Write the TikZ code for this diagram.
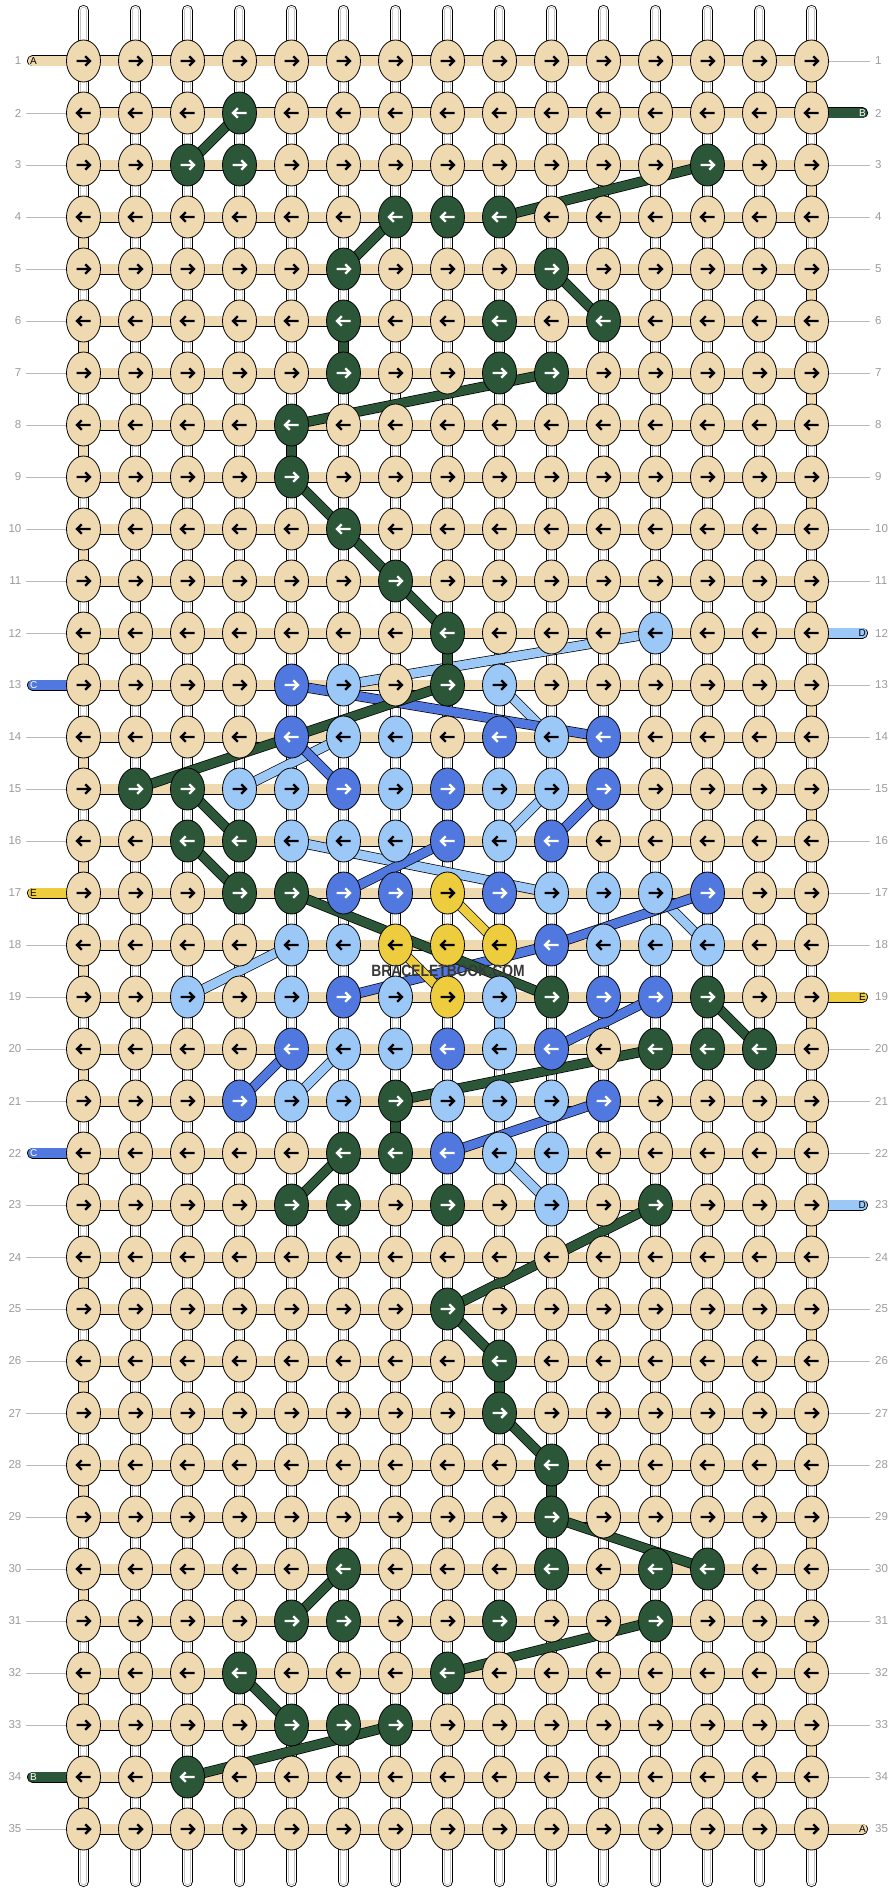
\documentclass[tikz,border=0pt]{standalone}
\usepackage{fontspec}
\setmainfont{Liberation Sans}
\usetikzlibrary{shapes.geometric}

\definecolor{wbeige}{HTML}{EFD9B0}
\definecolor{wgreen}{HTML}{2B5738}
\definecolor{wblue}{HTML}{5078DE}
\definecolor{wlight}{HTML}{9CC8F8}
\definecolor{wyellow}{HTML}{EDCC3D}
\definecolor{numgray}{HTML}{9B9B9B}

\pgfdeclarelayer{strings}
\pgfdeclarelayer{bands}
\pgfsetlayers{strings,bands,main}

% knots that are not beige: row-column
\newcommand\knotcolour[2]{%
  \foreach \rc in {#2}{\expandafter\xdef\csname kc@\rc\endcsname{#1}}}
\knotcolour{wgreen}{2-4,3-3,3-4,3-13,4-7,4-8,4-9,5-6,5-10,6-6,6-9,6-11,7-6,7-9,7-10,
  8-5,9-5,10-6,11-7,12-8,13-8,15-2,15-3,16-3,16-4,17-4,17-5,19-10,19-13,20-12,20-13,20-14,
  21-7,22-6,22-7,23-5,23-6,23-8,23-12,25-8,26-9,27-9,28-10,29-10,30-6,30-10,30-12,30-13,
  31-5,31-6,31-9,31-12,32-4,32-8,33-5,33-6,33-7,34-3}
\knotcolour{wblue}{13-5,14-5,14-9,14-11,15-6,15-8,15-11,16-8,16-10,17-6,17-7,17-9,17-13,
  18-10,19-6,19-11,19-12,20-5,20-8,20-10,21-4,21-11,22-8}
\knotcolour{wlight}{12-12,13-6,13-9,14-6,14-7,14-10,15-4,15-5,15-7,15-9,15-10,16-5,16-6,
  16-7,16-9,17-10,17-11,17-12,18-5,18-6,18-11,18-12,18-13,19-3,19-5,19-7,19-9,20-6,20-7,
  20-9,21-5,21-6,21-8,21-9,21-10,22-9,22-10,23-10}
\knotcolour{wyellow}{17-8,18-7,18-8,18-9,19-8}
\def\tmpg{wgreen}
\def\tmpb{wblue}

\begin{document}
\begin{tikzpicture}[
    x=1pt, y=-1pt,
    knot/.style={
        ellipse,
        draw=black,
        line width=0.8pt,
        minimum width=34pt,
        minimum height=42pt,
        inner sep=0pt
    },
    band/.style={draw=black, line width=0.8pt, double=#1, double distance=9.4pt},
    strand/.style={draw=black, line width=0.7pt, double=#1, double distance=8.8pt},
    vstring/.style={
        draw=black, line width=11pt, line cap=round,
        postaction={draw=white, line width=9.4pt, line cap=round},
        postaction={draw=gray!45, line width=7.4pt, line cap=round},
        postaction={draw=white, line width=5.6pt, line cap=round}
    },
    rowno/.style={text=numgray, font=\fontsize{11.5}{12}\selectfont, inner sep=0pt},
    rowline/.style={draw=gray!55, line width=0.9pt},
    endtag/.style={font=\fontsize{10}{11}\selectfont, inner sep=0pt},
    watermark/.style={text=black!78, font=\bfseries\fontsize{16.3}{18}\selectfont, inner sep=0pt},
    rarrow/.pic={\draw[line width=2.3pt, line join=miter] (-7,0) -- (6,0) (1.8,-4.8) -- (6.6,0) -- (1.8,4.8);}
]
\useasboundingbox (0,0) rectangle (896,1892);

% Knots
\foreach \r in {1,...,35}{
  \foreach \c in {1,...,15}{
    \ifcsname kc@\r-\c\endcsname \edef\kc{\csname kc@\r-\c\endcsname}\else \def\kc{wbeige}\fi
    \def\ac{black}\ifx\kc\tmpg\def\ac{white}\fi\ifx\kc\tmpb\def\ac{white}\fi
    \node[knot, fill=\kc] (k\r-\c) at ({83.5+(\c-1)*52},{61+(\r-1)*52}) {};
    \ifodd\r\relax
      \pic[color=\ac] at (k\r-\c.center) {rarrow};
    \else
      \pic[color=\ac, xscale=-1] at (k\r-\c.center) {rarrow};
    \fi
  }
}

% Vertical strings
\begin{pgfonlayer}{strings}
\fill[white] (0,0) rectangle (896,1892);
\foreach \c in {1,...,15}{
  \coordinate (top\c) at ({83.5+(\c-1)*52},10.5);
  \coordinate (bot\c) at ({83.5+(\c-1)*52},1881.5);
  \draw[vstring] (top\c) -- (bot\c);
}
\end{pgfonlayer}

% Row strings
\begin{pgfonlayer}{bands}
\foreach \r in {1,...,35}{\draw[band=wbeige] (k\r-1.center) -- (k\r-15.center);}
\foreach \r in {1,3,...,33}{
  \pgfmathtruncatemacro\n{\r+1}
  \draw[band=wbeige] (k\r-15.center) -- (k\n-15.center);
}
\foreach \r in {2,4,...,34}{
  \pgfmathtruncatemacro\n{\r+1}
  \draw[band=wbeige] (k\r-1.center) -- (k\n-1.center);
}

% Coloured strands
\foreach \a/\b/\col in {19-9/20-9/wlight,
    12-12/13-6/wlight, 13-9/14-10/wlight, 14-6/15-4/wlight, 15-10/16-9/wlight,
    16-5/17-10/wlight, 17-12/18-13/wlight, 18-5/19-3/wlight, 20-6/21-5/wlight,
    22-9/23-10/wlight,
    13-5/14-11/wblue, 14-5/15-6/wblue, 15-11/16-10/wblue, 16-8/17-6/wblue,
    17-13/18-10/wblue, 19-6/18-10/wblue, 19-12/20-10/wblue, 20-5/21-4/wblue,
    21-11/22-8/wblue,
    17-8/18-9/wyellow, 18-7/19-8/wyellow,
    6-6/7-6/wgreen, 8-5/9-5/wgreen, 12-8/13-8/wgreen, 21-7/22-7/wgreen,
    26-9/27-9/wgreen, 28-10/29-10/wgreen,
    2-4/3-3/wgreen, 4-9/3-13/wgreen, 4-7/5-6/wgreen, 5-10/6-11/wgreen,
    8-5/7-10/wgreen, 9-5/10-6/wgreen, 10-6/11-7/wgreen, 11-7/12-8/wgreen,
    13-8/15-2/wgreen, 15-3/16-4/wgreen, 16-3/17-4/wgreen, 17-5/19-10/wgreen,
    19-13/20-14/wgreen, 20-12/21-7/wgreen, 22-6/23-5/wgreen, 23-12/25-8/wgreen,
    25-8/26-9/wgreen, 27-9/28-10/wgreen, 29-10/30-13/wgreen, 30-6/31-5/wgreen,
    31-12/32-8/wgreen, 32-4/33-5/wgreen, 33-7/34-3/wgreen}{
  \draw[strand=\col] (k\a.center) -- (k\b.center);
}

% Loose ends
\foreach \r/\col in {1/wbeige, 13/wblue, 17/wyellow, 22/wblue, 34/wgreen}{
  \coordinate (la\r) at (32.5,{61+(\r-1)*52});
  \draw[band=\col, line cap=round] (la\r) -- (k\r-1.center);
}
\foreach \r/\col in {2/wgreen, 12/wlight, 19/wyellow, 23/wlight, 35/wbeige}{
  \coordinate (ra\r) at (862.5,{61+(\r-1)*52});
  \draw[band=\col, line cap=round] (k\r-15.center) -- (ra\r);
}
\end{pgfonlayer}

\foreach \r/\tag/\tc in {1/A/black, 13/C/white, 17/E/black, 22/C/white, 34/B/white}{
  \node[endtag, text=\tc, anchor=west, xshift=-2.5pt] (tl\r) at (la\r) {\tag};
}
\foreach \r/\tag/\tc in {2/B/white, 12/D/black, 19/E/black, 23/D/black, 35/A/black}{
  \node[endtag, text=\tc, anchor=east, xshift=3.5pt] (tr\r) at (ra\r) {\tag};
}

% Row numbers
\foreach \r in {1,...,35}{
  \node[rowno, anchor=east] (nl\r) at (21.5,{61+(\r-1)*52}) {\r};
  \node[rowno, anchor=west] (nr\r) at (875,{61+(\r-1)*52}) {\r};
}
\foreach \r in {2,3,4,5,6,7,8,9,10,11,12,14,15,16,18,19,20,21,23,24,25,26,27,28,29,30,31,32,33,35}{
  \draw[rowline, shorten <=4.5pt] (nl\r.east) -- (k\r-1.west);
}
\foreach \r in {1,3,4,5,6,7,8,9,10,11,13,14,15,16,17,18,20,21,22,24,25,26,27,28,29,30,31,32,33,34}{
  \draw[rowline, shorten >=5pt] (k\r-15.east) -- (nr\r.west);
}

% Watermark
\node[watermark] (wm) at (448,971) {\scalebox{0.85}[1]{BRACELETBOOK.COM}};

\end{tikzpicture}
\end{document}
